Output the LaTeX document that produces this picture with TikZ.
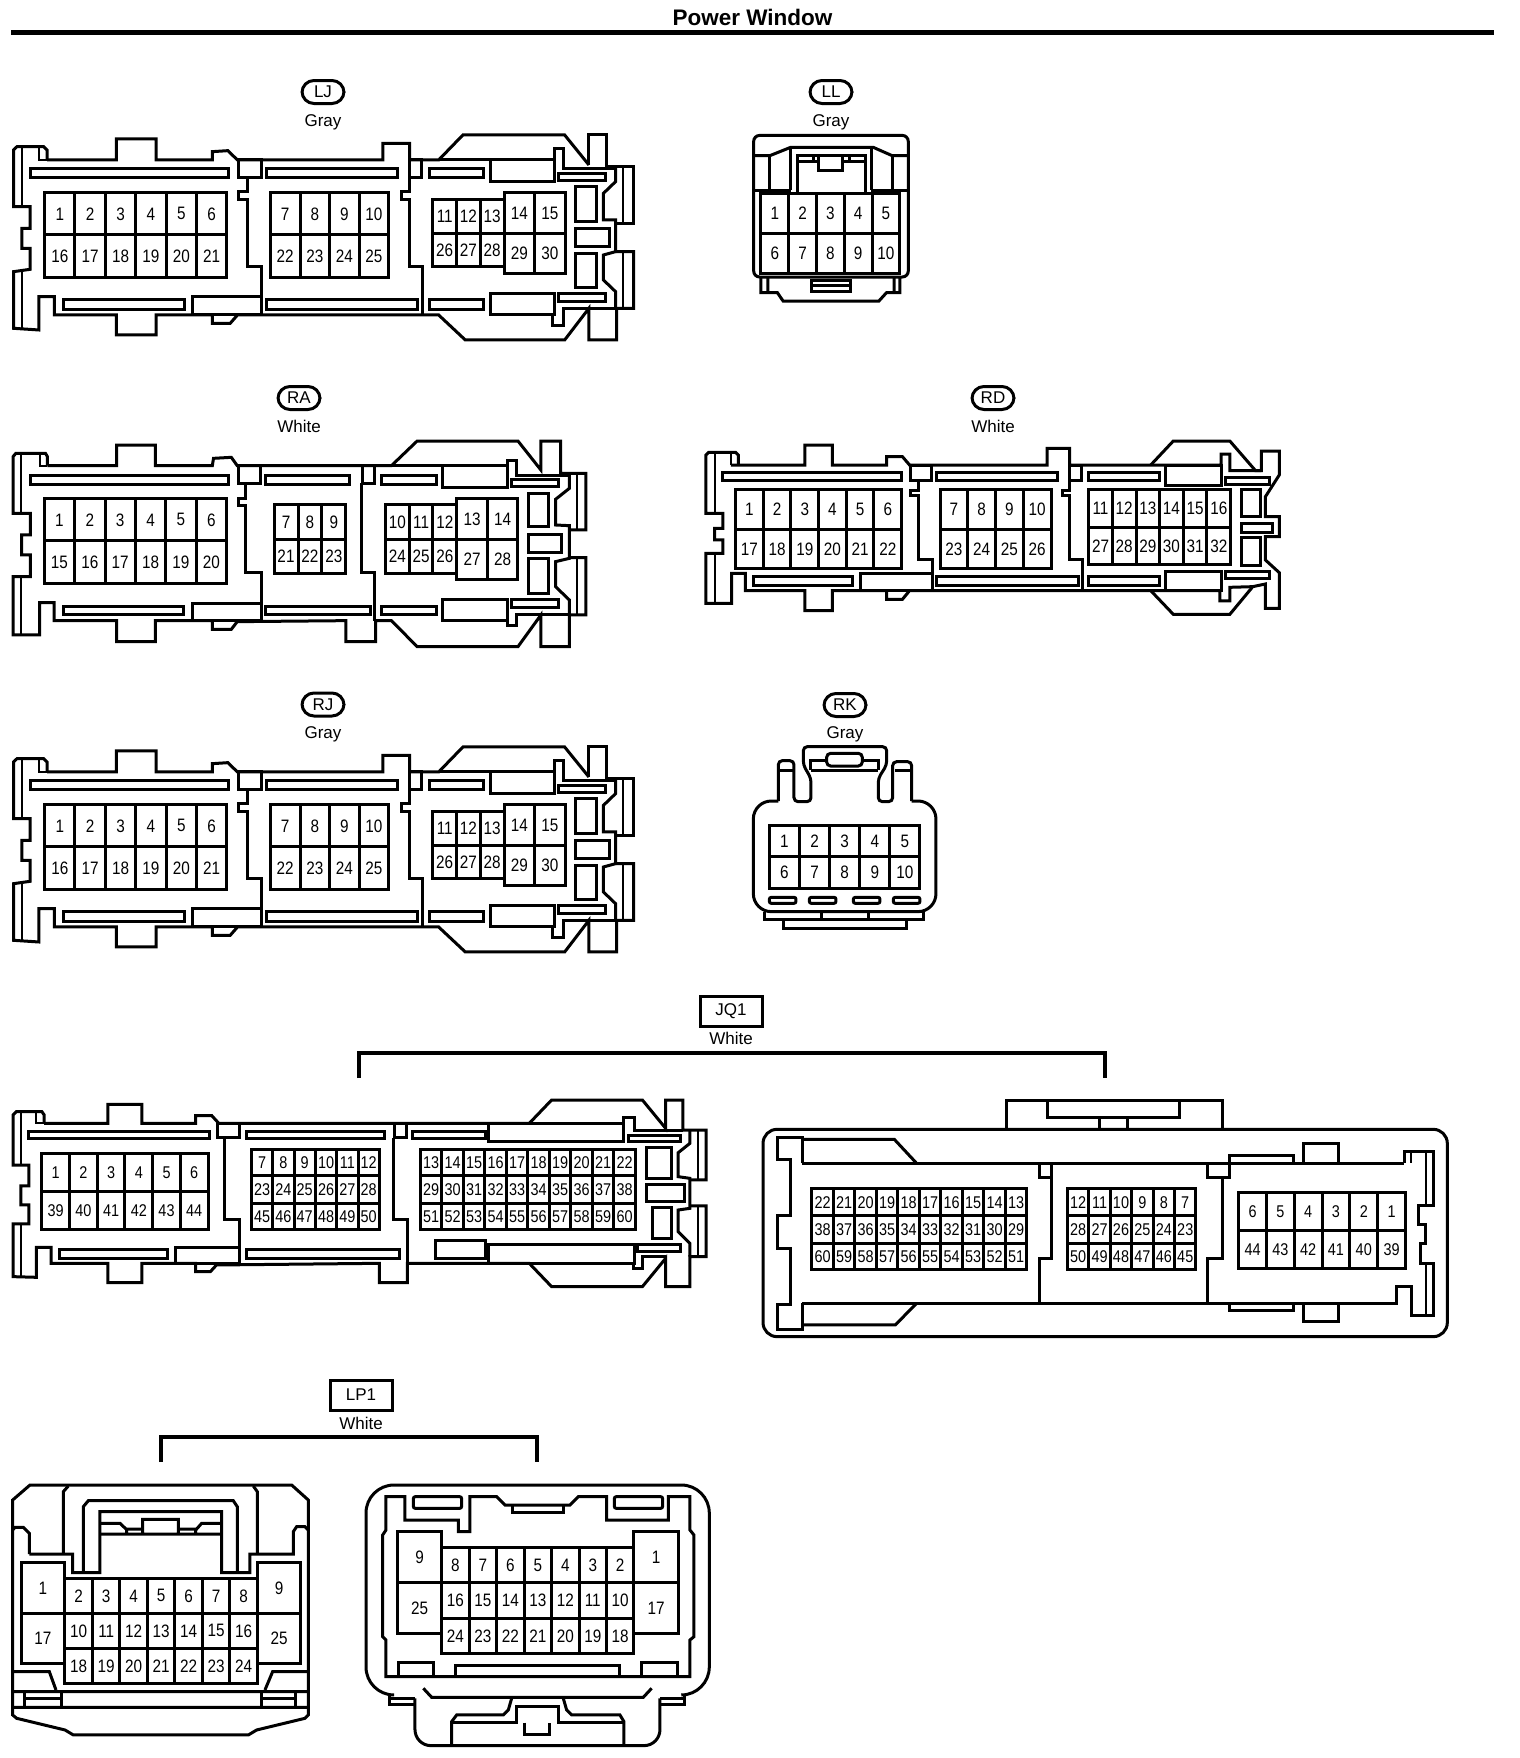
\documentclass[tikz,border=0pt]{standalone}
\usepackage{fontspec}
\setmainfont{Liberation Sans}
\newfontfamily\pinfont[FakeStretch=.85]{Liberation Sans}
\newcommand\pinsize{\fontsize{9}{10}\selectfont}
\newcounter{pinno}
\tikzset{
 ln/.style={line width=1.5pt},
 tn/.style={line width=1pt},
 pin/.style={inner sep=0pt,font=\pinfont\pinsize},
 oval/.style={draw,line width=1.5pt,rounded corners=6pt,minimum width=21pt,minimum height=11.5pt,inner sep=0pt,font=\fontsize{8.5}{10}\selectfont},
 tagbox/.style={draw,line width=1.5pt,minimum width=31pt,minimum height=15pt,inner sep=0pt,font=\fontsize{8.5}{10}\selectfont},
 colour/.style={inner sep=0pt,font=\fontsize{8.5}{10}\selectfont},
 titletext/.style={inner sep=0pt,font=\bfseries\fontsize{11.25}{13}\selectfont},
}
\newcommand\rowcells[6]{%
 \draw[ln] (#1,#3) rectangle (#2,#4);
 \foreach \lab [count=\i] in {#6} {%
  \pgfmathsetmacro\xa{#1+(\i-1)*(#2-#1)/#5}%
  \pgfmathsetmacro\xb{#1+\i*(#2-#1)/#5}%
  \stepcounter{pinno}%
  \ifnum\i<#5 \draw[ln] (\xb,#3)--(\xb,#4);\fi
  \node[pin] (p\thepinno) at ({(\xa+\xb)/2},{(#3+#4)/2}) {\lab};
 }}
% LJ / RJ connector, drawn in the coordinates of one crop
\newcommand\longconn[1]{%
\begin{scope}[shift={(0,#1)},xscale=0.4847,yscale=0.3333]
 \draw[ln] (97,480)--(240,480)--(240,417)--(322,417)--(322,480)--(438,480)--(438,455)--(470,452)--(490,480)--(790,480)--(790,430)--(845,430)--(845,480)--(905,480)--(955,405)--(1165,405)--(1215,495);
 \draw[ln] (97,480)--(97,450)--(90,440)--(35,440)--(28,450)--(28,620)--(62,620)--(62,685)--(45,685)--(45,745)--(62,745)--(62,808)--(28,815)--(28,985)--(80,990)--(80,890)--(112,890)--(112,945)--(240,945)--(240,1005)--(322,1005)--(322,945)--(438,945)--(438,970)--(475,970)--(490,945)--(905,945)--(960,1020)--(1165,1020)--(1215,925)--(1215,1020)--(1272,1020)--(1272,925)--(1307,925)--(1307,755)--(1270,755);
 \draw[ln] (1215,495)--(1215,405)--(1252,405)--(1252,500)--(1307,500)--(1307,670)--(1270,670);
 \draw[tn] (45,445)--(45,620) (45,815)--(45,985) (80,440)--(80,480)--(97,480) (1285,505)--(1285,670) (1285,755)--(1285,925);
 \draw[ln] (1270,500)--(1270,545)--(1245,580)--(1245,660)--(1270,660)--(1270,755)--(1245,765)--(1245,840)--(1270,875)--(1270,925);
 \draw[ln] (905,480)--(1143,480)--(1143,445)--(1163,445)--(1163,505)--(1270,505);
 \draw[ln] (1140,945)--(1140,978)--(1163,978)--(1163,925)--(1270,925);
 \draw[ln] (62,507) rectangle (472,533) (550,507) rectangle (820,533) (887,507) rectangle (998,533) (1012,480) rectangle (1143,545) (1152,520) rectangle (1250,542);
 \draw[ln] (492,480) rectangle (540,532) (845,480) rectangle (870,532);
 \draw[ln] (510,532)--(510,575)--(492,575)--(492,600)--(510,600)--(510,800)--(540,800)--(540,945);
 \draw[ln] (845,532)--(845,575)--(828,575)--(828,600)--(845,600)--(845,800)--(872,800)--(872,945);
 \draw[ln] (130,900) rectangle (380,928) (550,900) rectangle (862,928) (887,900) rectangle (998,928) (397,890) rectangle (540,945) (1012,880) rectangle (1143,945) (1152,882) rectangle (1250,905);
 \draw[ln] (1187,560) rectangle (1230,665) (1187,685) rectangle (1258,740) (1187,760) rectangle (1230,862);
 \rowcells{92}{468}{578}{705}{6}{1,2,3,4,5,6}
 \rowcells{92}{468}{705}{832}{6}{16,17,18,19,20,21}
 \rowcells{558}{802}{578}{705}{4}{7,8,9,10}
 \rowcells{558}{802}{705}{832}{4}{22,23,24,25}
 \rowcells{893}{1040}{598}{700}{3}{11,12,13}
 \rowcells{893}{1040}{700}{800}{3}{26,27,28}
 \rowcells{1040}{1166}{578}{700}{2}{14,15}
 \rowcells{1040}{1166}{700}{820}{2}{29,30}
\end{scope}}
\begin{document}
\begin{tikzpicture}[x=.5pt,y=-.5pt]
\useasboundingbox (0,0) rectangle (1520,1758);
\fill[white] (0,0) rectangle (1520,1758);
% title
\node[titletext] (title) at (752.5,17) {Power Window};
\coordinate (rulea) at (11,32.3);
\coordinate (ruleb) at (1494,32.3);
\draw[line width=2.4pt] (rulea)--(ruleb);
% labels
\node[oval] (tagLJ) at (323,92) {LJ};
\node[colour] (colLJ) at (323,122) {Gray};
\node[oval] (tagLL) at (831,92) {LL};
\node[colour] (colLL) at (831,122) {Gray};
\node[oval] (tagRA) at (299,398) {RA};
\node[colour] (colRA) at (299,426) {White};
\node[oval] (tagRD) at (993,398) {RD};
\node[colour] (colRD) at (993,426) {White};
\node[oval] (tagRJ) at (323,704.5) {RJ};
\node[colour] (colRJ) at (323,734) {Gray};
\node[oval] (tagRK) at (845,705) {RK};
\node[colour] (colRK) at (845,734) {Gray};
\node[tagbox] (tagJQ) at (731,1011) {JQ1};
\node[colour] (colJQ) at (731,1038) {White};
\node[tagbox] (tagLP) at (361,1395) {LP1};
\node[colour] (colLP) at (361,1423) {White};
% brackets
\coordinate (jqa) at (359,1078); \coordinate (jqb) at (359,1053);
\coordinate (jqc) at (1105,1053); \coordinate (jqd) at (1105,1078);
\draw[line width=1.7pt] (jqa)--(jqb)--(jqc)--(jqd);
\coordinate (lpa) at (161,1462); \coordinate (lpb) at (161,1437);
\coordinate (lpc) at (537,1437); \coordinate (lpd) at (537,1462);
\draw[line width=1.7pt] (lpa)--(lpb)--(lpc)--(lpd);
% LJ, RJ
\longconn{0}
\longconn{612}
% LL
\begin{scope}[shift={(720,60)},xscale=0.3827,yscale=0.3827]
 \draw[ln,rounded corners=3pt] (88,567) rectangle (492,197);
 \draw[ln] (90,250)--(130,250)--(185,228)--(400,228)--(450,250)--(490,250);
 \draw[ln] (130,250)--(130,340) (185,228)--(185,340) (395,228)--(395,340) (450,250)--(450,340) (90,340)--(185,340) (395,340)--(490,340);
 \draw[ln] (203,348)--(203,250)--(380,250)--(380,348) (203,265)--(258,265) (320,265)--(380,265) (258,250)--(258,290)--(320,290)--(320,250) (245,250)--(245,265) (338,250)--(338,265);
 \rowcells{107}{470}{350}{453}{5}{1,2,3,4,5}
 \rowcells{107}{470}{453}{557}{5}{6,7,8,9,10}
 \draw[ln] (107,567)--(107,608)--(150,608)--(165,630)--(415,630)--(435,608)--(470,608)--(470,567) (125,567)--(125,608)--(150,608) (455,567)--(455,608)--(435,608);
 \draw[ln] (240,575) rectangle (340,605) (240,590)--(340,590);
\end{scope}
% RA
\begin{scope}[shift={(0,380)},xscale=0.3954,yscale=0.3333]
 \draw[ln] (120,257)--(120,230)--(115,220)--(40,220)--(33,230)--(33,400)--(77,400)--(77,465)--(55,465)--(55,525)--(77,525)--(77,590)--(33,590)--(33,765)--(100,765)--(100,668)--(137,668)--(137,722)--(295,722)--(295,785)--(393,785)--(393,722)--(537,722)--(537,748)--(585,748)--(600,725)--(875,722)--(875,785)--(950,785)--(950,722)--(990,722)--(1055,800)--(1310,800)--(1368,705)--(1368,800)--(1440,800)--(1440,705)--(1482,705)--(1482,533)--(1440,533);
 \draw[ln] (120,257)--(295,257)--(295,195)--(393,195)--(393,257)--(537,257)--(540,235)--(585,232)--(600,257)--(990,257)--(1055,183)--(1310,183)--(1368,270)--(1368,183)--(1418,183)--(1418,280)--(1482,280)--(1482,450)--(1440,450);
 \draw[tn] (1460,280)--(1460,450) (1460,533)--(1460,705) (52,225)--(52,400) (52,590)--(52,765) (100,220)--(100,257)--(120,257);
 \draw[ln] (1440,285)--(1440,325)--(1405,358)--(1405,435)--(1440,437)--(1440,535)--(1405,545)--(1405,620)--(1440,660)--(1440,705);
 \draw[ln] (990,257)--(1283,257)--(1283,240)--(1305,240)--(1305,285)--(1440,285);
 \draw[ln] (1283,722)--(1283,738)--(1305,738)--(1305,705)--(1440,705);
 \draw[ln] (77,287) rectangle (578,312) (672,287) rectangle (885,312) (965,287) rectangle (1105,312) (1120,257) rectangle (1283,322) (1293,298) rectangle (1412,320);
 \draw[ln] (603,257) rectangle (660,310) (918,257) rectangle (948,310);
 \draw[ln] (622,310)--(622,355)--(603,355)--(603,378)--(622,378)--(622,578)--(662,578)--(662,722);
 \draw[ln] (915,310)--(915,578)--(948,578)--(948,722);
 \draw[ln] (160,680) rectangle (465,705) (672,680) rectangle (938,705) (965,680) rectangle (1105,705) (488,670) rectangle (662,722) (1120,658) rectangle (1283,722) (1293,660) rectangle (1412,683);
 \draw[ln] (1337,340) rectangle (1388,440) (1337,463) rectangle (1420,518) (1337,537) rectangle (1388,640);
 \rowcells{112}{573}{357}{482}{6}{1,2,3,4,5,6}
 \rowcells{112}{573}{482}{610}{6}{15,16,17,18,19,20}
 \rowcells{693}{875}{375}{478}{3}{7,8,9}
 \rowcells{693}{875}{478}{580}{3}{21,22,23}
 \rowcells{975}{1155}{375}{478}{3}{10,11,12}
 \rowcells{975}{1155}{478}{580}{3}{24,25,26}
 \rowcells{1155}{1310}{357}{478}{2}{13,14}
 \rowcells{1155}{1310}{478}{598}{2}{27,28}
\end{scope}
% RD
\begin{scope}[shift={(700,380)},xscale=0.3954,yscale=0.3333]
 \draw[ln] (97,255)--(97,225)--(90,217)--(22,217)--(15,225)--(15,400)--(58,400)--(58,445)--(37,445)--(37,480)--(58,480)--(58,520)--(15,520)--(15,670)--(80,670)--(80,580)--(115,580)--(115,632)--(265,632)--(265,692)--(335,692)--(335,632)--(472,632)--(472,658)--(512,658)--(530,632)--(1140,632)--(1197,703)--(1340,703)--(1398,620)--(1430,612)--(1430,685)--(1465,685)--(1465,578)--(1430,540)--(1430,470)--(1465,470)--(1465,410)--(1430,410)--(1430,350)--(1465,285)--(1465,213)--(1420,213)--(1420,272)--(1405,272)--(1340,183)--(1197,183)--(1140,255);
 \draw[ln] (78,255)--(265,255)--(265,195)--(335,195)--(335,255)--(472,255)--(472,230)--(512,230)--(530,255)--(878,255)--(878,205)--(935,205)--(935,255)--(1140,255)--(1318,255)--(1318,222)--(1340,222)--(1340,272)--(1420,272);
 \draw[tn] (78,217)--(78,255) (38,222)--(38,395) (38,525)--(38,670);
 \draw[ln] (1140,632)--(1315,632)--(1315,663)--(1340,663)--(1340,622)--(1398,620);
 \draw[ln] (57,278) rectangle (510,302) (598,278) rectangle (905,302) (983,278) rectangle (1163,302) (1177,255) rectangle (1318,315) (1328,292) rectangle (1440,312);
 \draw[ln] (533,255) rectangle (585,300) (935,255) rectangle (965,300);
 \draw[ln] (552,300)--(552,330)--(533,330)--(533,348)--(552,348)--(552,538)--(588,538)--(588,632);
 \draw[ln] (935,300)--(935,330)--(918,330)--(918,348)--(935,348)--(935,538)--(968,538)--(968,632);
 \draw[ln] (135,590) rectangle (385,618) (598,590) rectangle (958,618) (983,590) rectangle (1163,618) (405,580) rectangle (588,632) (1177,575) rectangle (1318,632) (1328,575) rectangle (1440,595);
 \draw[ln] (1370,328) rectangle (1417,410) (1370,430) rectangle (1448,458) (1370,473) rectangle (1417,557);
 \rowcells{90}{510}{328}{448}{6}{1,2,3,4,5,6}
 \rowcells{90}{510}{448}{567}{6}{17,18,19,20,21,22}
 \rowcells{607}{888}{328}{448}{4}{7,8,9,10}
 \rowcells{607}{888}{448}{567}{4}{23,24,25,26}
 \rowcells{983}{1342}{328}{443}{6}{11,12,13,14,15,16}
 \rowcells{983}{1342}{443}{555}{6}{27,28,29,30,31,32}
\end{scope}
% RK
\begin{scope}[shift={(700,690)},xscale=0.3333,yscale=0.3333]
 \draw[ln,rounded corners=2pt] (235,333)--(235,212)--(282,212)--(282,335)--(333,335)--(333,265)--(310,225)--(310,170)--(560,170)--(560,225)--(535,265)--(535,335)--(578,335)--(578,215)--(635,215)--(635,333);
 \draw[ln,rounded corners=9pt] (235,333)--(160,333)--(160,665)--(708,665)--(708,333)--(635,333);
 \draw[ln] (333,240)--(333,212)--(535,212)--(535,240) (333,240)--(535,240) (235,240)--(282,240) (585,240)--(635,240);
 \draw[ln,rounded corners=2pt,fill=white] (380,190) rectangle (487,228);
 \rowcells{208}{660}{407}{500}{5}{1,2,3,4,5}
 \rowcells{208}{660}{500}{595}{5}{6,7,8,9,10}
 \draw[ln,rounded corners=1pt] (208,622) rectangle (288,640) (328,622) rectangle (408,640) (460,622) rectangle (540,640) (580,622) rectangle (660,640);
 \draw[ln] (195,665)--(195,690)--(670,690)--(670,665) (365,665)--(365,690) (505,665)--(505,690) (250,690)--(250,715)--(620,715)--(620,690);
\end{scope}
% JQ1 left
\begin{scope}[shift={(0,1000)},xscale=0.4655,yscale=0.3333]
 \renewcommand\pinsize{\fontsize{8.5}{10}\selectfont}
 \draw[ln] (95,370)--(95,345)--(90,335)--(35,335)--(28,345)--(28,495)--(62,495)--(62,558)--(45,558)--(45,615)--(62,615)--(62,672)--(28,672)--(28,830)--(78,832)--(78,742)--(110,742)--(110,790)--(232,790)--(232,848)--(305,848)--(305,790)--(420,790)--(420,815)--(452,815)--(465,795)--(815,790)--(815,848)--(875,848)--(875,790)--(1137,790)--(1185,860)--(1380,860)--(1430,775)--(1430,860)--(1482,860)--(1482,770)--(1517,770)--(1517,618)--(1482,618);
 \draw[ln] (95,370)--(232,370)--(232,313)--(305,313)--(305,370)--(420,370)--(420,347)--(455,347)--(470,370)--(1137,370)--(1185,300)--(1380,300)--(1430,385)--(1430,300)--(1467,300)--(1467,390)--(1517,390)--(1517,540)--(1482,540);
 \draw[tn] (1500,392)--(1500,540) (1500,618)--(1500,770) (45,340)--(45,495) (45,672)--(45,830) (78,335)--(78,370)--(95,370);
 \draw[ln] (1482,392)--(1482,430)--(1457,458)--(1457,530)--(1482,535)--(1482,625)--(1457,630)--(1457,695)--(1482,730)--(1482,770);
 \draw[ln] (1137,370)--(1340,370)--(1340,352)--(1362,352)--(1362,390)--(1467,390);
 \draw[ln] (1137,790)--(1360,790)--(1360,805)--(1380,805)--(1380,770)--(1430,770);
 \draw[ln] (62,393) rectangle (450,415) (530,393) rectangle (825,415) (887,393) rectangle (1042,415) (1050,370) rectangle (1340,425) (1350,405) rectangle (1462,425);
 \draw[ln] (468,370) rectangle (515,413) (848,370) rectangle (873,413);
 \draw[ln] (482,413)--(482,658)--(515,658)--(515,790);
 \draw[ln] (846,413)--(846,658)--(875,658)--(875,790);
 \draw[ln] (127,750) rectangle (360,775) (530,750) rectangle (858,775) (378,742) rectangle (515,790) (935,723) rectangle (1042,775) (1050,733) rectangle (1362,790) (1370,735) rectangle (1462,755);
 \draw[ln] (1388,442) rectangle (1443,535) (1388,555) rectangle (1470,605) (1402,622) rectangle (1443,717);
 \rowcells{90}{447}{460}{575}{6}{1,2,3,4,5,6}
 \rowcells{90}{447}{575}{688}{6}{39,40,41,42,43,44}
 \rowcells{540}{815}{448}{528}{6}{7,8,9,10,11,12}
 \rowcells{540}{815}{528}{610}{6}{23,24,25,26,27,28}
 \rowcells{540}{815}{610}{690}{6}{45,46,47,48,49,50}
 \rowcells{903}{1365}{448}{528}{10}{13,14,15,16,17,18,19,20,21,22}
 \rowcells{903}{1365}{528}{610}{10}{29,30,31,32,33,34,35,36,37,38}
 \rowcells{903}{1365}{610}{690}{10}{51,52,53,54,55,56,57,58,59,60}
\end{scope}
% JQ1 right
\begin{scope}[shift={(750,1000)},xscale=0.4655,yscale=0.3333]
 \renewcommand\pinsize{\fontsize{8.5}{10}\selectfont}
 \draw[ln,rounded corners=7pt] (28,388) rectangle (1498,1010);
 \draw[ln] (550,388)--(550,300)--(1015,300)--(1015,388) (640,302)--(640,352)--(922,352)--(922,302) (750,352)--(750,388) (812,352)--(812,388);
 \draw[ln] (112,490)--(1405,490);
 \draw[ln] (112,490)--(112,412)--(60,412)--(60,478)--(87,478)--(87,648)--(60,648)--(60,745)--(87,745)--(87,915)--(60,915)--(60,988)--(112,988)--(112,910);
 \draw[ln] (112,418)--(310,418)--(358,490) (112,975)--(312,975)--(358,910);
 \draw[ln] (112,910)--(1388,910)--(1388,860)--(1420,860)--(1420,948)--(1468,948)--(1468,790)--(1440,790)--(1440,730)--(1452,730)--(1452,675)--(1437,675)--(1437,618)--(1468,618)--(1468,455)--(1405,455)--(1405,490);
 \draw[tn] (1452,455)--(1452,615) (1452,790)--(1452,945) (1420,455)--(1420,490);
 \draw[ln] (1190,490)--(1190,430)--(1265,430)--(1265,490) (1190,910)--(1190,965)--(1265,965)--(1265,910) (1030,490)--(1030,465)--(1168,465)--(1168,490) (1030,910)--(1030,932)--(1168,932)--(1168,910);
 \draw[ln] (622,490)--(622,533)--(648,533)--(648,490) (648,533)--(648,775)--(622,775)--(622,910);
 \draw[ln] (982,490)--(982,533)--(1030,533)--(1030,490) (1015,533)--(1015,775)--(982,775)--(982,910);
 \rowcells{133}{595}{567}{648}{10}{22,21,20,19,18,17,16,15,14,13}
 \rowcells{133}{595}{648}{730}{10}{38,37,36,35,34,33,32,31,30,29}
 \rowcells{133}{595}{730}{810}{10}{60,59,58,57,56,55,54,53,52,51}
 \rowcells{682}{958}{567}{648}{6}{12,11,10,9,8,7}
 \rowcells{682}{958}{648}{730}{6}{28,27,26,25,24,23}
 \rowcells{682}{958}{730}{810}{6}{50,49,48,47,46,45}
 \rowcells{1050}{1408}{577}{692}{6}{6,5,4,3,2,1}
 \rowcells{1050}{1408}{692}{807}{6}{44,43,42,41,40,39}
\end{scope}
% LP1 left
\begin{scope}[shift={(0,1380)},xscale=0.3333,yscale=0.3333]
 \draw[ln] (38,360)--(90,315)--(875,315)--(925,360)--(925,1005)--(915,1015)--(770,1050)--(745,1065)--(220,1065)--(195,1050)--(50,1015)--(38,1005)--cycle;
 \draw[ln] (190,522)--(190,335)--(205,318) (760,318)--(772,335)--(772,522);
 \draw[ln] (88,522)--(218,522)--(218,578)--(300,578)--(300,395)--(665,395)--(665,578)--(750,578)--(750,522)--(880,522)--(880,455)--(890,440)--(915,440)--(925,450);
 \draw[ln] (38,450)--(45,442)--(70,442)--(88,460)--(88,522);
 \draw[ln] (250,578)--(250,380)--(265,362)--(700,362)--(712,380)--(712,578);
 \draw[ln] (300,430)--(360,430)--(378,447)--(428,447) (300,462)--(428,462) (428,418) rectangle (535,462) (535,447)--(590,447)--(605,430)--(665,430) (535,462)--(665,462) (380,447)--(380,462) (587,447)--(587,462);
 \rowcells{65}{193}{548}{700}{1}{1}
 \rowcells{65}{193}{700}{852}{1}{17}
 \rowcells{772}{903}{548}{700}{1}{9}
 \rowcells{772}{903}{700}{852}{1}{25}
 \rowcells{195}{772}{595}{700}{7}{2,3,4,5,6,7,8}
 \rowcells{195}{772}{700}{805}{7}{10,11,12,13,14,15,16}
 \rowcells{195}{772}{805}{910}{7}{18,19,20,21,22,23,24}
 \draw[ln] (38,875)--(148,875)--(168,930) (925,875)--(818,875)--(795,930) (38,935)--(925,935) (38,982)--(925,982);
 \draw[ln] (75,935)--(75,982) (185,935)--(185,982) (785,935)--(785,982) (888,935)--(888,982) (75,955)--(185,955) (785,955)--(888,955);
\end{scope}
% LP1 right
\begin{scope}[shift={(350,1380)},xscale=0.3333,yscale=0.3333]
 \draw[ln,rounded corners=14pt] (118,945)--(48,945)--(48,315)--(1078,315)--(1078,945)--(1005,945);
 \draw[ln] (118,945)--(118,975)--(195,975);
 \draw[ln,rounded corners=8pt] (195,955)--(195,1097)--(930,1097)--(930,955);
 \draw[ln] (1005,945)--(1005,975)--(930,975) (118,955)--(195,955) (930,955)--(1005,955);
 \draw[ln] (108,890)--(1020,890)--(1020,780)--(1032,770)--(1032,465)--(1020,450)--(1020,350)--(955,350)--(955,420)--(770,420)--(770,350)--(685,350)--(660,375)--(465,375)--(440,350)--(360,350)--(360,455)--(325,455)--(325,420)--(165,420)--(165,350)--(108,350)--(108,450)--(98,465)--(98,770)--(108,780)--cycle;
 \draw[ln,rounded corners=1pt] (190,350) rectangle (335,385) (793,350) rectangle (938,385);
 \draw[ln] (488,375)--(488,398)--(640,398)--(640,375);
 \rowcells{143}{275}{455}{608}{1}{9}
 \rowcells{143}{275}{608}{762}{1}{25}
 \rowcells{852}{985}{455}{608}{1}{1}
 \rowcells{852}{985}{608}{762}{1}{17}
 \rowcells{275}{852}{503}{608}{7}{8,7,6,5,4,3,2}
 \rowcells{275}{852}{608}{715}{7}{16,15,14,13,12,11,10}
 \rowcells{275}{852}{715}{820}{7}{24,23,22,21,20,19,18}
 \draw[ln] (145,890)--(145,848)--(250,848)--(250,890) (318,890)--(318,858)--(810,858)--(810,890) (875,890)--(875,848)--(982,848)--(982,890);
 \draw[ln] (220,925)--(245,952)--(880,952)--(905,925);
 \draw[ln] (485,955)--(475,990)--(460,1005)--(320,1005)--(305,1025)--(305,1097) (640,955)--(650,990)--(665,1005)--(810,1005)--(822,1025)--(822,1097);
 \draw[ln] (305,1028)--(500,1028)--(500,980)--(625,980)--(625,1028)--(822,1028) (525,1028)--(525,1063)--(600,1063)--(600,1028);
\end{scope}
\end{tikzpicture}
\end{document}
